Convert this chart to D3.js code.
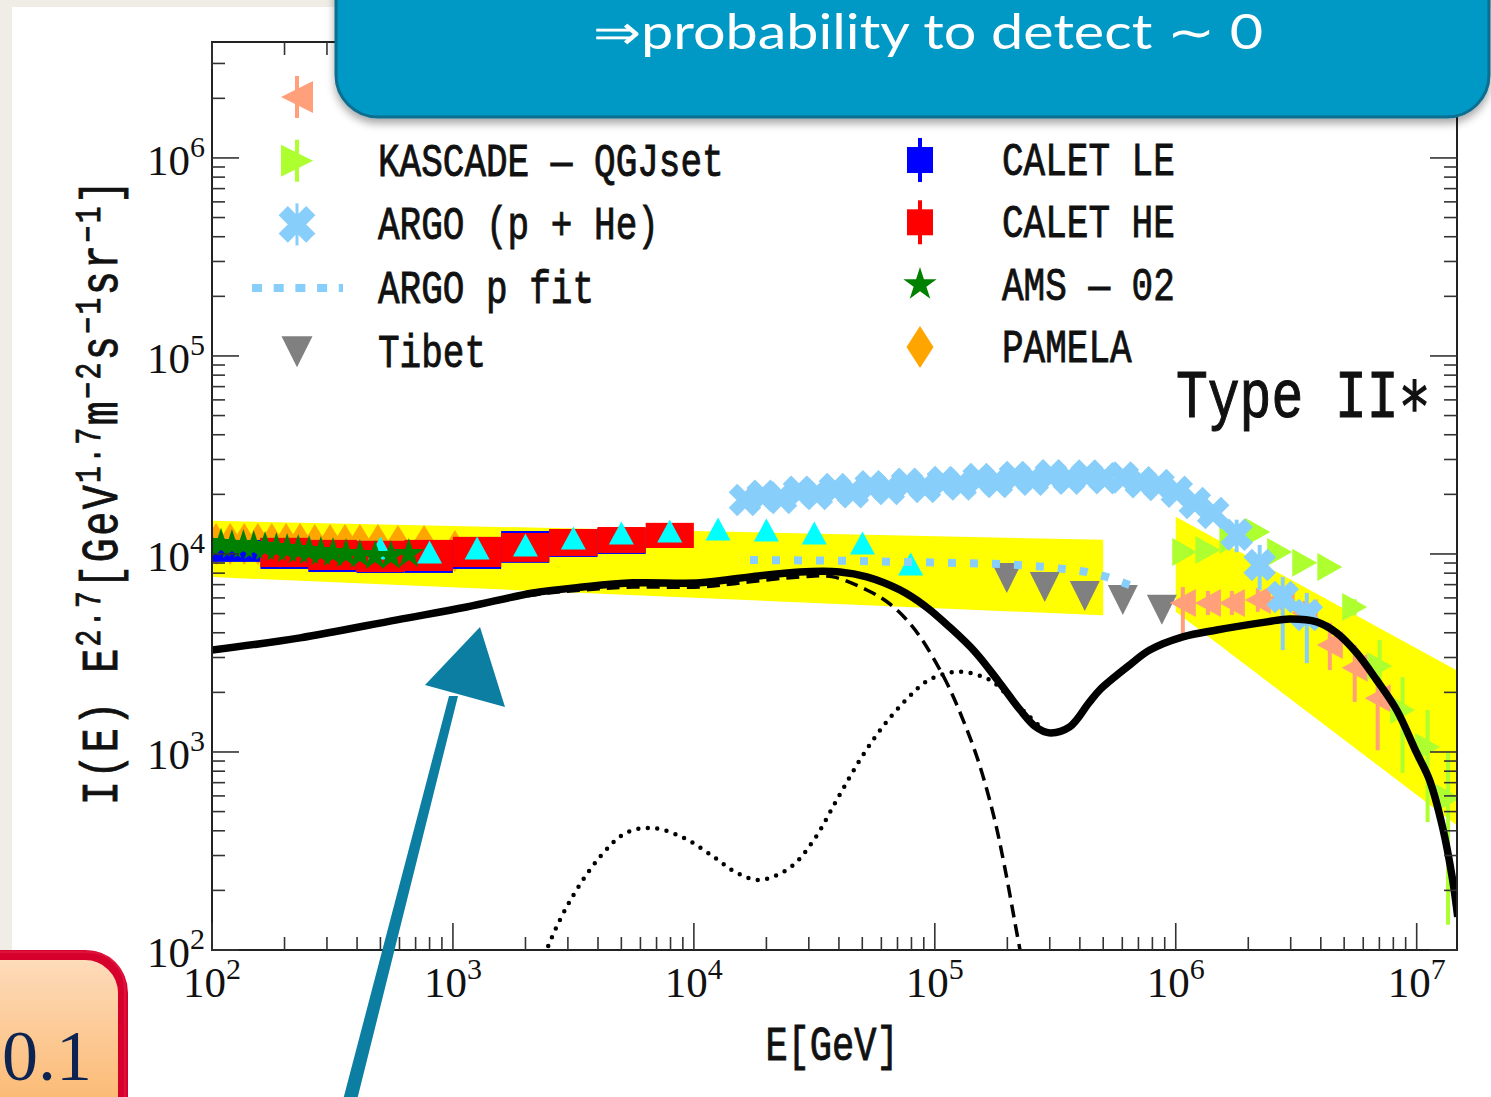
<!DOCTYPE html>
<html><head><meta charset="utf-8">
<script src="https://cdn.jsdelivr.net/npm/d3@7"></script>
<style>html,body{margin:0;padding:0;background:#f0ede7;overflow:hidden}</style>
</head><body>
<svg id="c" width="1491" height="1097"></svg>
<script>
// ---------------- DATA ----------------
const xMin = 1e2, xMax = 1.47e7, yMin = 1e2, yMax = 3.85e6;
const xTickExp = [2, 3, 4, 5, 6, 7];
const yTickExp = [2, 3, 4, 5, 6];

// yellow bands
const bandLowE = [1e2, 5e5], bandLowHi = [14700, 11800], bandLowLo = [7650, 4900];
const bandHighE = [1e6, 2e7], bandHighHi = [15400, 2100], bandHighLo = [5100, 320];

// model curves
const modelE = [100, 232, 586, 1140, 2150, 3460, 5590, 10600, 17100, 27500, 40400, 52200, 71600, 91000, 115000, 147000, 186000, 226000, 262000, 297000, 363000, 436000, 484000, 644000, 780000, 1.07e6, 1.48e6, 2.39e6, 2.97e6, 3.85e6, 4.66e6, 5.64e6, 6.82e6, 8.26e6, 1.0e7, 1.13e7, 1.28e7, 1.41e7, 1.48e7];
const modelTotal = [3270, 3770, 4650, 5400, 6350, 6810, 7150, 7150, 7660, 8110, 8110, 7660, 6580, 5460, 4280, 3200, 2230, 1630, 1340, 1250, 1340, 1770, 2060, 2750, 3270, 3810, 4130, 4540, 4700, 4540, 3990, 3160, 2310, 1630, 989, 723, 418, 226, 147];
const comp1E = [100, 586, 2150, 3460, 5590, 10600, 17100, 27500, 37800, 52200, 62700, 75200, 87500, 109000, 126000, 151000, 176000, 195000, 219000, 228000];
const comp1 = [3240, 4590, 6210, 6580, 6810, 6810, 7230, 7660, 7660, 6580, 5790, 4750, 3770, 2390, 1630, 912, 470, 262, 122, 94];
const comp2E = [2350, 2480, 3030, 4070, 5220, 6760, 9100, 12100, 15100, 18800, 25200, 31500, 39200, 48900, 60800, 75900, 94400, 126000, 169000, 203000, 236000, 286000];
const comp2 = [85, 104, 173, 295, 390, 413, 368, 295, 245, 226, 262, 360, 573, 912, 1340, 1830, 2310, 2540, 2310, 1900, 1590, 1280];

// CALET (bins 0.2 decade wide)
const caletLE_E = [126, 200, 316, 501, 794, 1259, 1995, 3162, 5012];
const caletLE_hi = [11770, 12050, 11770, 11640, 11770, 12190, 13060, 13370, 13520];
const caletLE_lo = [9120, 8400, 8110, 8020, 8020, 8400, 9020, 9660, 10000];
const caletHE_E = [200, 316, 501, 794, 1259, 1995, 3162, 5012, 7943];
const caletHE_hi = [12050, 11770, 11640, 11770, 12190, 12760, 13370, 13680, 14360];
const caletHE_lo = [8590, 8300, 8110, 8200, 8590, 9120, 9770, 10120, 10720];

// cyan triangles
const cyanE = [500, 800, 1260, 2000, 3160, 5000, 7940, 12600, 20000, 31600, 50100, 79400];
const cyanV = [10720, 10230, 10720, 11100, 12050, 12760, 13060, 13370, 13220, 12760, 11370, 8900];

// AMS-02
const amsE = [98, 109, 121, 135, 149, 166, 185, 205, 228, 253, 283, 318, 360, 411, 475, 553, 656];
const amsV = [11380, 11250, 11100, 11100, 10970, 10840, 10720, 10590, 10470, 10350, 10230, 10120, 10000, 9890, 9770, 9770, 10000];

// PAMELA
const pamE = [104, 119, 136, 155, 177, 203, 232, 267, 309, 356, 411, 488, 591, 759, 1019];
const pamV = [11230, 11230, 11230, 11230, 11230, 11230, 11230, 11100, 11100, 11100, 11100, 11100, 10970, 10970, 10360];

// Tibet
const tibetE = [1.99e5, 2.86e5, 4.19e5, 6.03e5, 8.76e5];
const tibetV = [7570, 6810, 6140, 5860, 5220];

// ARGO p fit
const argoFitE = [17100, 44400, 115000, 186000, 300000, 428000, 517000, 644000];
const argoFitV = [9330, 9230, 9020, 8900, 8590, 8110, 7660, 6970];

// ARGO (p+He)
const argoE = [16300, 19300, 23000, 27300, 32400, 38500, 45700, 54200, 64400, 76600, 91000, 108000, 128000, 152000, 181000, 215000, 255000, 303000, 360000, 428000, 507000, 603000, 716000, 849000, 1.01e6, 1.2e6, 1.43e6, 1.79e6, 2.23e6, 2.78e6, 3.5e6];
const argoV = [18750, 19700, 19200, 20600, 20100, 21300, 20500, 22000, 21300, 22600, 21800, 23100, 22400, 23900, 23100, 24500, 23700, 25000, 24000, 24900, 24100, 24300, 23000, 22300, 20600, 18100, 16100, 12500, 8790, 6070, 4920];
const argoErrE = [1.79e6, 2.23e6, 2.78e6, 3.5e6];
const argoErrHi = [14900, 11100, 7660, 6350];
const argoErrLo = [10200, 6580, 3270, 2810];

// KASCADE - QGJset (green-yellow)
const kasE = [1.09e6, 1.36e6, 1.71e6, 2.19e6, 2.70e6, 3.43e6, 4.36e6, 5.53e6, 7.02e6, 8.74e6, 1.11e7, 1.35e7];
const kasV = [10230, 10470, 11770, 12910, 10230, 9020, 8590, 5400, 2720, 1630, 1060, 586];
const kasHi = [10800, 11000, 12300, 13500, 10800, 9500, 9100, 5900, 3680, 2390, 1630, 990];
const kasLo = [9700, 9950, 11200, 12300, 9700, 8550, 8100, 4900, 2060, 783, 443, 134];

// salmon (first legend entry)
const salE = [1.07e6, 1.36e6, 1.71e6, 2.19e6, 2.75e6, 3.43e6, 4.36e6, 5.53e6, 6.89e6];
const salV = [5660, 5660, 5660, 5860, 6000, 5040, 3470, 2660, 1870];
const salHi = [6810, 6500, 6500, 6740, 6900, 5800, 4490, 3470, 2310];
const salLo = [3680, 4920, 4920, 5100, 5220, 4380, 2590, 1790, 1020];

const legendLeft = ["", "KASCADE \u2014 QGJset", "ARGO (p + He)", "ARGO p fit", "Tibet"];
const legendRight = ["CALET LE", "CALET HE", "AMS \u2014 02", "PAMELA"];

// ---------------- DRAW ----------------
const W = 1491, H = 1097;
const L = 212, R = 1457, T = 42, B = 950;
const svg = d3.select("#c");
const defs = svg.append("defs");
const sh = defs.append("filter").attr("id", "shadow").attr("x", "-5%").attr("y", "-10%").attr("width", "110%").attr("height", "130%");
sh.append("feDropShadow").attr("dx", 0).attr("dy", 5).attr("stdDeviation", 4).attr("flood-color", "#000").attr("flood-opacity", 0.35);
const gr = defs.append("linearGradient").attr("id", "peach").attr("x1", 0).attr("y1", 0).attr("x2", 0).attr("y2", 1);
gr.append("stop").attr("offset", "0%").attr("stop-color", "#fddcbc");
gr.append("stop").attr("offset", "100%").attr("stop-color", "#fbae5a");
defs.append("clipPath").attr("id", "pc").append("rect").attr("x", L).attr("y", T).attr("width", R - L).attr("height", B - T);

svg.append("rect").attr("width", W).attr("height", H).attr("fill", "#f0ede7");
svg.append("rect").attr("x", 12).attr("y", 7).attr("width", W - 12).attr("height", H - 7).attr("fill", "#fff");

const x = d3.scaleLog().domain([xMin, xMax]).range([L, R]);
const y = d3.scaleLog().domain([yMin, yMax]).range([B, T]);

function triPath(w, h, dir) {
  let p;
  if (dir === "up") p = [[0, -h / 2], [w / 2, h / 2], [-w / 2, h / 2]];
  else if (dir === "down") p = [[0, h / 2], [w / 2, -h / 2], [-w / 2, -h / 2]];
  else if (dir === "left") p = [[-w / 2, 0], [w / 2, -h / 2], [w / 2, h / 2]];
  else p = [[w / 2, 0], [-w / 2, -h / 2], [-w / 2, h / 2]];
  return "M" + p.map(q => q.join(",")).join("L") + "Z";
}
function starPath(Ro) {
  const ri = Ro * 0.382; let s = "";
  for (let i = 0; i < 10; i++) {
    const a = -Math.PI / 2 + i * Math.PI / 5, rr = i % 2 ? ri : Ro;
    s += (i ? "L" : "M") + (rr * Math.cos(a)).toFixed(2) + "," + (rr * Math.sin(a)).toFixed(2);
  }
  return s + "Z";
}
function diamondPath(w, h) { return `M0,${-h / 2}L${w / 2},0L0,${h / 2}L${-w / 2},0Z`; }
function xPath(a, t) {
  const p = [[-t, -a], [t, -a], [t, -t], [a, -t], [a, t], [t, t], [t, a], [-t, a], [-t, t], [-a, t], [-a, -t], [-t, -t]];
  const c = Math.SQRT1_2;
  return "M" + p.map(([u, v]) => ((u - v) * c).toFixed(2) + "," + ((u + v) * c).toFixed(2)).join("L") + "Z";
}

const plot = svg.append("g").attr("clip-path", "url(#pc)");

// bands
const area = d3.area().x(d => x(d[0])).y0(d => y(d[1])).y1(d => y(d[2]));
plot.append("path").datum(d3.zip(bandLowE, bandLowLo, bandLowHi)).attr("d", area).attr("fill", "#ffff00");
plot.append("path").datum(d3.zip(bandHighE, bandHighLo, bandHighHi)).attr("d", area).attr("fill", "#ffff00");

function markers(E, V, path, color) {
  plot.append("g").selectAll("path").data(d3.zip(E, V)).join("path")
    .attr("transform", d => `translate(${x(d[0])},${y(d[1])})`).attr("d", path).attr("fill", color);
}
function errbars(E, Hi, Lo, color, w) {
  plot.append("g").selectAll("line").data(d3.zip(E, Hi, Lo)).join("line")
    .attr("x1", d => x(d[0])).attr("x2", d => x(d[0])).attr("y1", d => y(d[1])).attr("y2", d => y(d[2]))
    .attr("stroke", color).attr("stroke-width", w);
}

// PAMELA under CALET
markers(pamE, pamV, diamondPath(26, 42), "#ffa500");

// CALET
const calHalf = Math.pow(10, 0.1);
function calet(E, hi, lo, color) {
  plot.append("g").selectAll("rect").data(d3.zip(E, hi, lo)).join("rect")
    .attr("x", d => x(d[0] / calHalf)).attr("width", d => x(d[0] * calHalf) - x(d[0] / calHalf))
    .attr("y", d => y(d[1])).attr("height", d => y(d[2]) - y(d[1])).attr("fill", color);
}
calet(caletLE_E, caletLE_hi, caletLE_lo, "#0000ff");
calet(caletHE_E, caletHE_hi, caletHE_lo, "#ff0000");

markers(cyanE, cyanV, triPath(25, 23, "up"), "#00ffff");
markers(amsE, amsV, starPath(16), "#008000");
markers(tibetE, tibetV, triPath(30, 30, "down"), "#808080");
errbars(salE, salHi, salLo, "#ffa07a", 4);
markers(salE, salV, triPath(26, 28, "left"), "#ffa07a");
errbars(kasE, kasHi, kasLo, "#adff2f", 4);
markers(kasE, kasV, triPath(25, 28, "right"), "#adff2f");

const line = d3.line().x(d => x(d[0])).y(d => y(d[1]));
plot.append("path").datum(d3.zip(argoFitE, argoFitV)).attr("d", line)
  .attr("fill", "none").attr("stroke", "#87cefa").attr("stroke-width", 8).attr("stroke-dasharray", "8,14");

errbars(argoErrE, argoErrHi, argoErrLo, "#87cefa", 4);
markers(argoE, argoV, xPath(17, 6), "#87cefa");

// model curves
const sline = d3.line().x(d => x(d[0])).y(d => y(d[1])).curve(d3.curveCatmullRom.alpha(0.5));
plot.append("path").datum(d3.zip(comp2E, comp2)).attr("d", sline)
  .attr("fill", "none").attr("stroke", "#000").attr("stroke-width", 4.5).attr("stroke-linecap", "round").attr("stroke-dasharray", "0,9.5");
plot.append("path").datum(d3.zip(comp1E, comp1)).attr("d", sline)
  .attr("fill", "none").attr("stroke", "#000").attr("stroke-width", 3.5).attr("stroke-dasharray", "13,7");
plot.append("path").datum(d3.zip(modelE, modelTotal)).attr("d", sline)
  .attr("fill", "none").attr("stroke", "#000").attr("stroke-width", 7.5).attr("stroke-linejoin", "round");

// axes frame & ticks
const ax = svg.append("g").attr("fill", "none");
ax.append("rect").attr("x", L).attr("y", T).attr("width", R - L).attr("height", B - T).attr("stroke", "#222").attr("stroke-width", 2);
const tk = ax.append("g").attr("stroke", "#333").attr("stroke-width", 1.6);
for (let k = 2; k <= 7; k++) for (let m = 1; m <= 9; m++) {
  const v = m * Math.pow(10, k); if (v > xMax) continue;
  const px = x(v), len = m === 1 ? 27 : 13;
  tk.append("line").attr("x1", px).attr("x2", px).attr("y1", B).attr("y2", B - len);
  tk.append("line").attr("x1", px).attr("x2", px).attr("y1", T).attr("y2", T + len);
}
for (let k = 2; k <= 6; k++) for (let m = 1; m <= 9; m++) {
  const v = m * Math.pow(10, k); if (v > yMax) continue;
  const py = y(v), len = m === 1 ? 27 : 13;
  tk.append("line").attr("y1", py).attr("y2", py).attr("x1", L).attr("x2", L + len);
  tk.append("line").attr("y1", py).attr("y2", py).attr("x1", R).attr("x2", R - len);
}
const serif = "'Liberation Serif', 'DejaVu Serif', serif";
xTickExp.forEach(k => {
  const t = svg.append("text").attr("x", x(Math.pow(10, k))).attr("y", 997).attr("text-anchor", "middle")
    .attr("font-family", serif).attr("font-size", 43).attr("fill", "#111");
  t.append("tspan").text("10");
  t.append("tspan").attr("dy", -18).attr("font-size", 30).text(k);
});
yTickExp.forEach(k => {
  const t = svg.append("text").attr("x", 205).attr("y", y(Math.pow(10, k)) + 17).attr("text-anchor", "end")
    .attr("font-family", serif).attr("font-size", 43).attr("fill", "#111");
  t.append("tspan").text("10");
  t.append("tspan").attr("dy", -18).attr("font-size", 30).text(k);
});

const mono = "'Liberation Mono', 'DejaVu Sans Mono', monospace";
// x title
svg.append("text").attr("transform", "translate(832,1060) scale(1,1.3)").attr("text-anchor", "middle")
  .attr("font-family", mono).attr("font-size", 37).attr("fill", "#111")
  .attr("stroke", "#111").attr("stroke-width", 0.7).text("E[GeV]");
// y title
const yt = svg.append("text").attr("transform", "translate(117,805) rotate(-90) scale(1,1.3)")
  .attr("font-family", mono).attr("font-size", 40).attr("fill", "#111")
  .attr("stroke", "#111").attr("stroke-width", 0.7)
  .attr("textLength", 625).attr("lengthAdjust", "spacing");
yt.append("tspan").text("I(E) E");
yt.append("tspan").attr("dy", -13).attr("font-size", 28).text("2.7");
yt.append("tspan").attr("dy", 13).text("[GeV");
yt.append("tspan").attr("dy", -13).attr("font-size", 28).text("1.7");
yt.append("tspan").attr("dy", 13).text("m");
yt.append("tspan").attr("dy", -13).attr("font-size", 28).text("\u22122");
yt.append("tspan").attr("dy", 13).text("s");
yt.append("tspan").attr("dy", -13).attr("font-size", 28).text("\u22121");
yt.append("tspan").attr("dy", 13).text("sr");
yt.append("tspan").attr("dy", -13).attr("font-size", 28).text("\u22121");
yt.append("tspan").attr("dy", 13).text("]");

// legend
const lg = svg.append("g");
const lx = 297, rx = 920, ly0 = 97, ry0 = 160, dyL = 63.7, dyR = 62.3;
function lgMarker(cx, cy, path, color) { lg.append("path").attr("transform", `translate(${cx},${cy})`).attr("d", path).attr("fill", color); }
function lgBar(cx, cy, h, color, w) { lg.append("line").attr("x1", cx).attr("x2", cx).attr("y1", cy - h).attr("y2", cy + h).attr("stroke", color).attr("stroke-width", w); }
lgBar(lx, ly0, 21, "#ffa07a", 4); lgMarker(lx, ly0, triPath(32, 32, "left"), "#ffa07a");
lgBar(lx, ly0 + dyL, 21, "#adff2f", 4); lgMarker(lx, ly0 + dyL, triPath(32, 32, "right"), "#adff2f");
lgBar(lx, ly0 + 2 * dyL, 21, "#87cefa", 3); lgMarker(lx, ly0 + 2 * dyL, xPath(19.5, 6.5), "#87cefa");
lg.append("line").attr("x1", 252).attr("x2", 343).attr("y1", ly0 + 3 * dyL).attr("y2", ly0 + 3 * dyL)
  .attr("stroke", "#87cefa").attr("stroke-width", 8).attr("stroke-dasharray", "10,11.7");
lgMarker(lx, ly0 + 4 * dyL, triPath(31, 31, "down"), "#808080");
lgBar(rx, ry0, 22, "#0000ff", 4); lgMarker(rx, ry0, "M-13,-13H13V13H-13Z", "#0000ff");
lgBar(rx, ry0 + dyR, 22, "#ff0000", 4); lgMarker(rx, ry0 + dyR, "M-13,-13H13V13H-13Z", "#ff0000");
lgMarker(rx, ry0 + 2 * dyR, starPath(17.5), "#008000");
lgMarker(rx, ry0 + 3 * dyR, diamondPath(27, 42), "#ffa500");
legendLeft.forEach((s, i) => {
  if (!s) return;
  lg.append("text").attr("transform", `translate(378,${ly0 + i * dyL + 15}) scale(1,1.3)`)
    .attr("font-family", mono).attr("font-size", 36).attr("fill", "#111")
    .attr("stroke", "#111").attr("stroke-width", 0.7).text(s);
});
legendRight.forEach((s, i) => {
  lg.append("text").attr("transform", `translate(1002,${ry0 + i * dyR + 15}) scale(1,1.3)`)
    .attr("font-family", mono).attr("font-size", 36).attr("fill", "#111")
    .attr("stroke", "#111").attr("stroke-width", 0.7).text(s);
});
svg.append("text").attr("transform", "translate(1176,417) scale(1,1.3)")
  .attr("font-family", mono).attr("font-size", 53).attr("fill", "#111")
  .attr("stroke", "#111").attr("stroke-width", 0.9).text("Type II\u2217");

// ---------------- OVERLAYS ----------------
// banner
svg.append("rect").attr("x", 336).attr("y", -60).attr("width", 1153).attr("height", 177).attr("rx", 42)
  .attr("fill", "#0099c6").attr("stroke", "#0b6e90").attr("stroke-width", 3).attr("filter", "url(#shadow)");
svg.append("text").attr("x", 593).attr("y", 49).attr("font-family", "Lato, 'Open Sans', sans-serif")
  .attr("font-size", 48).attr("fill", "#fff").attr("textLength", 670).attr("lengthAdjust", "spacingAndGlyphs")
  .text("\u21D2probability to detect \u223C 0");

// red box
svg.append("rect").attr("x", -40).attr("y", 955).attr("width", 163).attr("height", 200).attr("rx", 38)
  .attr("fill", "url(#peach)").attr("stroke", "#d6002c").attr("stroke-width", 10);
svg.append("rect").attr("x", -38).attr("y", 952).attr("width", 163).attr("height", 200).attr("rx", 36)
  .attr("fill", "none").attr("stroke", "#e01540").attr("stroke-width", 2.5).attr("opacity", 0.8);
svg.append("text").attr("x", 2).attr("y", 1080).attr("font-family", serif).attr("font-size", 72)
  .attr("fill", "#0d2452").attr("textLength", 90).attr("lengthAdjust", "spacingAndGlyphs").text("0.1");

// arrow
const arrow = svg.append("g").attr("fill", "#0b7ea1");
arrow.append("path").attr("d", "M343,1100L357,1100L458,696L449,696Z");
arrow.append("path").attr("d", "M480,627L425,685L505,707Z");
</script>
</body></html>
